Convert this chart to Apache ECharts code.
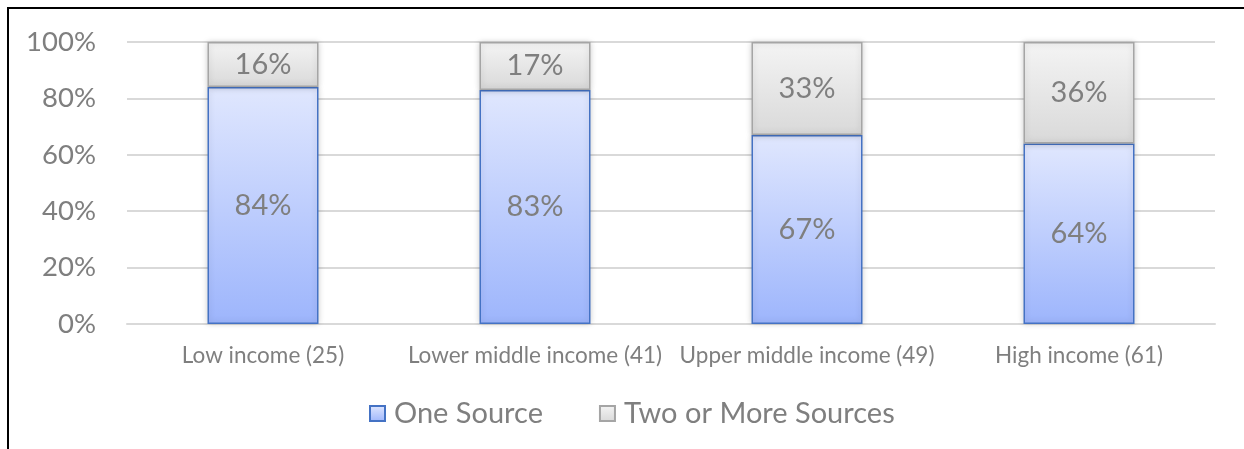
<!DOCTYPE html>
<html>
<head>
<meta charset="utf-8">
<script src="https://cdn.jsdelivr.net/npm/echarts@6/dist/echarts.min.js"></script>
<style>
  html, body { margin: 0; padding: 0; background: #fff; }
  #chart { width: 1244px; height: 449px; }
</style>
</head>
<body>
<div id="chart"></div>
<script>
// income groups (number of countries in brackets)
const categories = ['Low income (25)', 'Lower middle income (41)', 'Upper middle income (49)', 'High income (61)'];
const oneSource = [84, 83, 67, 64];
const twoOrMore = [16, 17, 33, 36];
const yTicks = [0, 20, 40, 60, 80, 100];

const font = 'Lato, "Open Sans", sans-serif';
const grey = '#7f7f7f';

const chart = echarts.init(document.getElementById('chart'));

const barLabel = {
  show: true,
  position: 'inside',
  formatter: p => p.value + '%',
  color: grey,
  fontFamily: font,
  fontSize: 29
};

chart.setOption({
  animation: false,
  graphic: [{
    type: 'rect',
    shape: { x: 8, y: 8, width: 1300, height: 500 },
    style: { fill: 'none', stroke: '#000', lineWidth: 2 },
    silent: true
  }],
  grid: { left: 127, right: 29, top: 42, bottom: 125, containLabel: false },
  legend: {
    bottom: 16,
    left: 364,
    itemWidth: 15,
    itemHeight: 15,
    itemGap: 56,
    icon: 'rect',
    textStyle: { color: grey, fontFamily: font, fontSize: 29, padding: [0, 0, 0, 4] },
    data: ['One Source', 'Two or More Sources']
  },
  xAxis: {
    type: 'category',
    data: categories,
    axisLine: { lineStyle: { color: '#d9d9d9', width: 2 } },
    axisTick: { show: false },
    axisLabel: { color: grey, fontFamily: font, fontSize: 22.5, margin: 20, interval: 0 }
  },
  yAxis: {
    type: 'value',
    min: 0,
    max: 100,
    interval: 20,
    axisLine: { show: false },
    axisTick: { show: false },
    splitLine: { lineStyle: { color: '#d9d9d9', width: 2 } },
    axisLabel: {
      color: grey, fontFamily: font, fontSize: 27.5, margin: 31,
      formatter: v => yTicks.includes(v) ? v + '%' : ''
    }
  },
  series: [
    {
      name: 'One Source',
      type: 'bar',
      stack: 'total',
      barWidth: 111,
      data: oneSource,
      label: barLabel,
      itemStyle: {
        color: new echarts.graphic.LinearGradient(0, 0, 0, 1, [
          { offset: 0, color: '#e0e7fe' },
          { offset: 1, color: '#9db5fc' }
        ]),
        borderColor: '#4472c4',
        borderWidth: 1.5,
        shadowBlur: 6,
        shadowColor: 'rgba(0,0,0,0.18)'
      }
    },
    {
      name: 'Two or More Sources',
      type: 'bar',
      stack: 'total',
      barWidth: 111,
      data: twoOrMore,
      label: barLabel,
      itemStyle: {
        color: new echarts.graphic.LinearGradient(0, 0, 0, 1, [
          { offset: 0, color: '#f4f4f4' },
          { offset: 1, color: '#d9d9d9' }
        ]),
        borderColor: '#a5a5a5',
        borderWidth: 1.5,
        shadowBlur: 6,
        shadowColor: 'rgba(0,0,0,0.18)'
      }
    }
  ]
});
</script>
</body>
</html>
